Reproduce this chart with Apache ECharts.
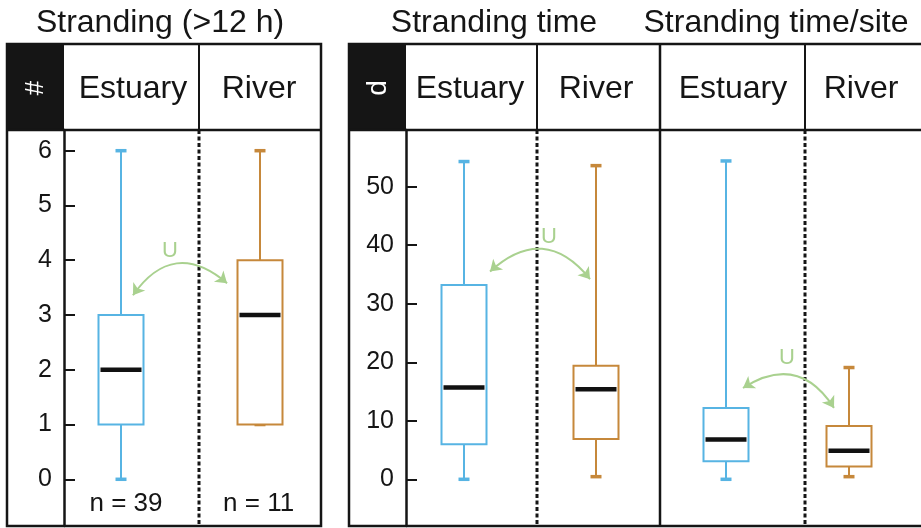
<!DOCTYPE html>
<html><head><meta charset="utf-8">
<script src="https://cdn.jsdelivr.net/npm/echarts@6/dist/echarts.min.js"></script>
<style>html,body{margin:0;padding:0;background:#fff}#c{width:921px;height:528px}</style>
</head><body><div id="c"></div>
<script>
// ---- data ----
const categories = ['Estuary', 'River'];
const panelTitles = ['Stranding (>12 h)', 'Stranding time', 'Stranding time/site'];
const unitLabels = ['#', 'd'];
const countTicks = [0, 1, 2, 3, 4, 5, 6];
const dayTicks = [0, 10, 20, 30, 40, 50];
// each row: [min, Q1, median, Q3, max]
const strandingCount = [[0, 1, 2, 3, 6], [1, 1, 3, 4, 6]];
const strandingTime = [[0, 6.0, 15.7, 33.2, 54.3], [0.45, 6.9, 15.4, 19.4, 53.6]];
const strandingTimeSite = [[0, 3.1, 6.8, 12.2, 54.4], [0.45, 2.2, 4.9, 9.1, 19.1]];
const sampleSizes = ['n = 39', 'n = 11'];
const testLabel = 'U';

// ---- styles ----
const FONT = 'Liberation Sans, Arial, sans-serif';
const INK = '#151515';
const COLORS = ['#57b4e3', '#c6883b'];
const GREEN = '#a9d18f';

const chart = echarts.init(document.getElementById('c'));

function boxSeries(stats, idx) {
  return {
    type: 'custom', xAxisIndex: idx, yAxisIndex: idx, clip: false, z: 3,
    data: stats.map((s, i) => [i].concat(s)),
    encode: { x: 0, y: [1, 2, 3, 4, 5] },
    renderItem: function (params, api) {
      const x = api.value(0);
      const c = COLORS[params.dataIndex];
      const pLo = api.coord([x, api.value(1)]);
      const pQ1 = api.coord([x, api.value(2)]);
      const pMed = api.coord([x, api.value(3)]);
      const pQ3 = api.coord([x, api.value(4)]);
      const pHi = api.coord([x, api.value(5)]);
      const cx = pMed[0];
      const hw = 22.5, cw = 5.5;
      return {
        type: 'group',
        children: [
          { type: 'line', shape: { x1: cx, y1: pHi[1], x2: cx, y2: pQ3[1] }, style: { stroke: c, lineWidth: 2 } },
          { type: 'line', shape: { x1: cx, y1: pQ1[1], x2: cx, y2: pLo[1] }, style: { stroke: c, lineWidth: 2 } },
          { type: 'rect', shape: { x: cx - cw, y: pHi[1] - 1.75, width: cw * 2, height: 3.5 }, style: { fill: c } },
          { type: 'rect', shape: { x: cx - cw, y: pLo[1] - 1.75, width: cw * 2, height: 3.5 }, style: { fill: c } },
          { type: 'rect', shape: { x: cx - hw, y: pQ3[1], width: hw * 2, height: pQ1[1] - pQ3[1] }, style: { fill: '#fff', stroke: c, lineWidth: 2 } },
          { type: 'line', shape: { x1: cx - hw + 2, y1: pMed[1], x2: cx + hw - 2, y2: pMed[1] }, style: { stroke: '#111', lineWidth: 4.5 } }
        ]
      };
    }
  };
}

function arrowSeries(idx, from, to, curv) {
  return {
    type: 'lines', coordinateSystem: 'cartesian2d', xAxisIndex: idx, yAxisIndex: idx, z: 4,
    symbol: ['arrow', 'arrow'], symbolSize: 11,
    lineStyle: { color: GREEN, width: 2, curveness: curv, opacity: 1 },
    data: [{ coords: [from, to] }]
  };
}

function labelSeries(idx, points, texts, style) {
  return {
    type: 'scatter', xAxisIndex: idx, yAxisIndex: idx, symbolSize: 0, z: 5, silent: true,
    itemStyle: { opacity: 1 },
    data: points.map((p, i) => ({ value: p, label: { formatter: texts[i] } })),
    label: Object.assign({ show: true, position: 'inside', fontFamily: FONT, opacity: 1 }, style)
  };
}

function yAxisBase(idx, min, max, ticks, offset, show) {
  return {
    type: 'value', gridIndex: idx, min: min, max: max, offset: offset, show: show,
    axisLine: { show: true, onZero: false, lineStyle: { color: INK, width: 2.5 } },
    axisTick: { show: true, inside: true, length: 11, lineStyle: { color: INK, width: 2 }, customValues: ticks },
    axisLabel: { show: true, customValues: ticks, fontSize: 25, color: INK, margin: 12, fontFamily: FONT },
    splitLine: { show: false }
  };
}

const txt = (t, x, y, size, fill, rot) => ({
  type: 'text', x: x, y: y, silent: true, rotation: rot || 0,
  style: { text: t, fontSize: size, fontFamily: FONT, fill: fill || INK, align: 'center', verticalAlign: 'middle' }
});
const ln = (x1, y1, x2, y2, w, dash) => ({
  type: 'line', silent: true, shape: { x1, y1, x2, y2 },
  style: { stroke: INK, lineWidth: w || 2.5, lineDash: dash || null }
});
const DASH = [4, 2.5];

const graphics = [
  // left panel frame
  { type: 'rect', silent: true, shape: { x: 7, y: 44, width: 314, height: 482 }, style: { fill: 'none', stroke: INK, lineWidth: 2.5 } },
  { type: 'rect', silent: true, shape: { x: 7, y: 44, width: 57, height: 86 }, style: { fill: INK } },
  ln(7, 130, 321, 130),
  ln(199, 44, 199, 130, 2),
  ln(199, 130, 199, 526, 3, DASH),
  // right panel frame
  { type: 'rect', silent: true, shape: { x: 349, y: 44, width: 620, height: 482 }, style: { fill: 'none', stroke: INK, lineWidth: 2.5 } },
  { type: 'rect', silent: true, shape: { x: 349, y: 44, width: 57, height: 86 }, style: { fill: INK } },
  ln(349, 130, 921, 130),
  ln(537, 44, 537, 130, 2),
  ln(537, 130, 537, 526, 3, DASH),
  ln(660, 44, 660, 526, 2.5),
  ln(805, 44, 805, 130, 2),
  ln(805, 130, 805, 526, 3, DASH),
  // titles
  txt(panelTitles[0], 160, 23, 32),
  txt(panelTitles[1], 494, 23, 32),
  txt(panelTitles[2], 776, 23, 32),
  // header categories
  txt(categories[0], 133, 89, 32),
  txt(categories[1], 259, 89, 32),
  txt(categories[0], 470, 89, 32),
  txt(categories[1], 596, 89, 32),
  txt(categories[0], 733, 89, 32),
  txt(categories[1], 861, 89, 32),
  // unit labels in black boxes
  txt(unitLabels[0], 36, 88, 26, '#fff', Math.PI / 2),
  txt(unitLabels[1], 378, 88, 28, '#fff', Math.PI / 2)
];

const option = {
  animation: false,
  backgroundColor: '#fff',
  grid: [
    { left: 51.5, width: 278, top: 130, bottom: 2, outerBoundsMode: 'none', containLabel: false },
    { left: 398, width: 264, top: 130, bottom: 2, outerBoundsMode: 'none', containLabel: false },
    { left: 664.5, width: 246, top: 130, bottom: 2, outerBoundsMode: 'none', containLabel: false }
  ],
  xAxis: [0, 1, 2].map(i => ({ type: 'value', gridIndex: i, min: -0.5, max: 1.5, show: false })),
  yAxis: [
    yAxisBase(0, -0.853, 6.378, countTicks, -12.5, true),
    yAxisBase(1, -7.98, 59.69, dayTicks, -8, true),
    yAxisBase(2, -7.98, 59.69, dayTicks, 0, false)
  ],
  graphic: graphics,
  series: [
    boxSeries(strandingCount, 0),
    boxSeries(strandingTime, 1),
    boxSeries(strandingTimeSite, 2),
    arrowSeries(0, [0.086, 3.36], [0.763, 3.58], 0.55),
    arrowSeries(1, [0.197, 35.5], [0.955, 34.2], 0.53),
    arrowSeries(2, [0.138, 15.6], [0.878, 12.2], 0.5),
    labelSeries(0, [[0.353, 4.17]], [testLabel], { fontSize: 22, color: GREEN }),
    labelSeries(1, [[0.644, 41.5]], [testLabel], { fontSize: 22, color: GREEN }),
    labelSeries(2, [[0.496, 20.7]], [testLabel], { fontSize: 22, color: GREEN }),
    labelSeries(0, [[0.036, -0.45], [0.99, -0.45]], sampleSizes, { fontSize: 26, color: INK })
  ]
};
chart.setOption(option);
</script>
</body></html>
